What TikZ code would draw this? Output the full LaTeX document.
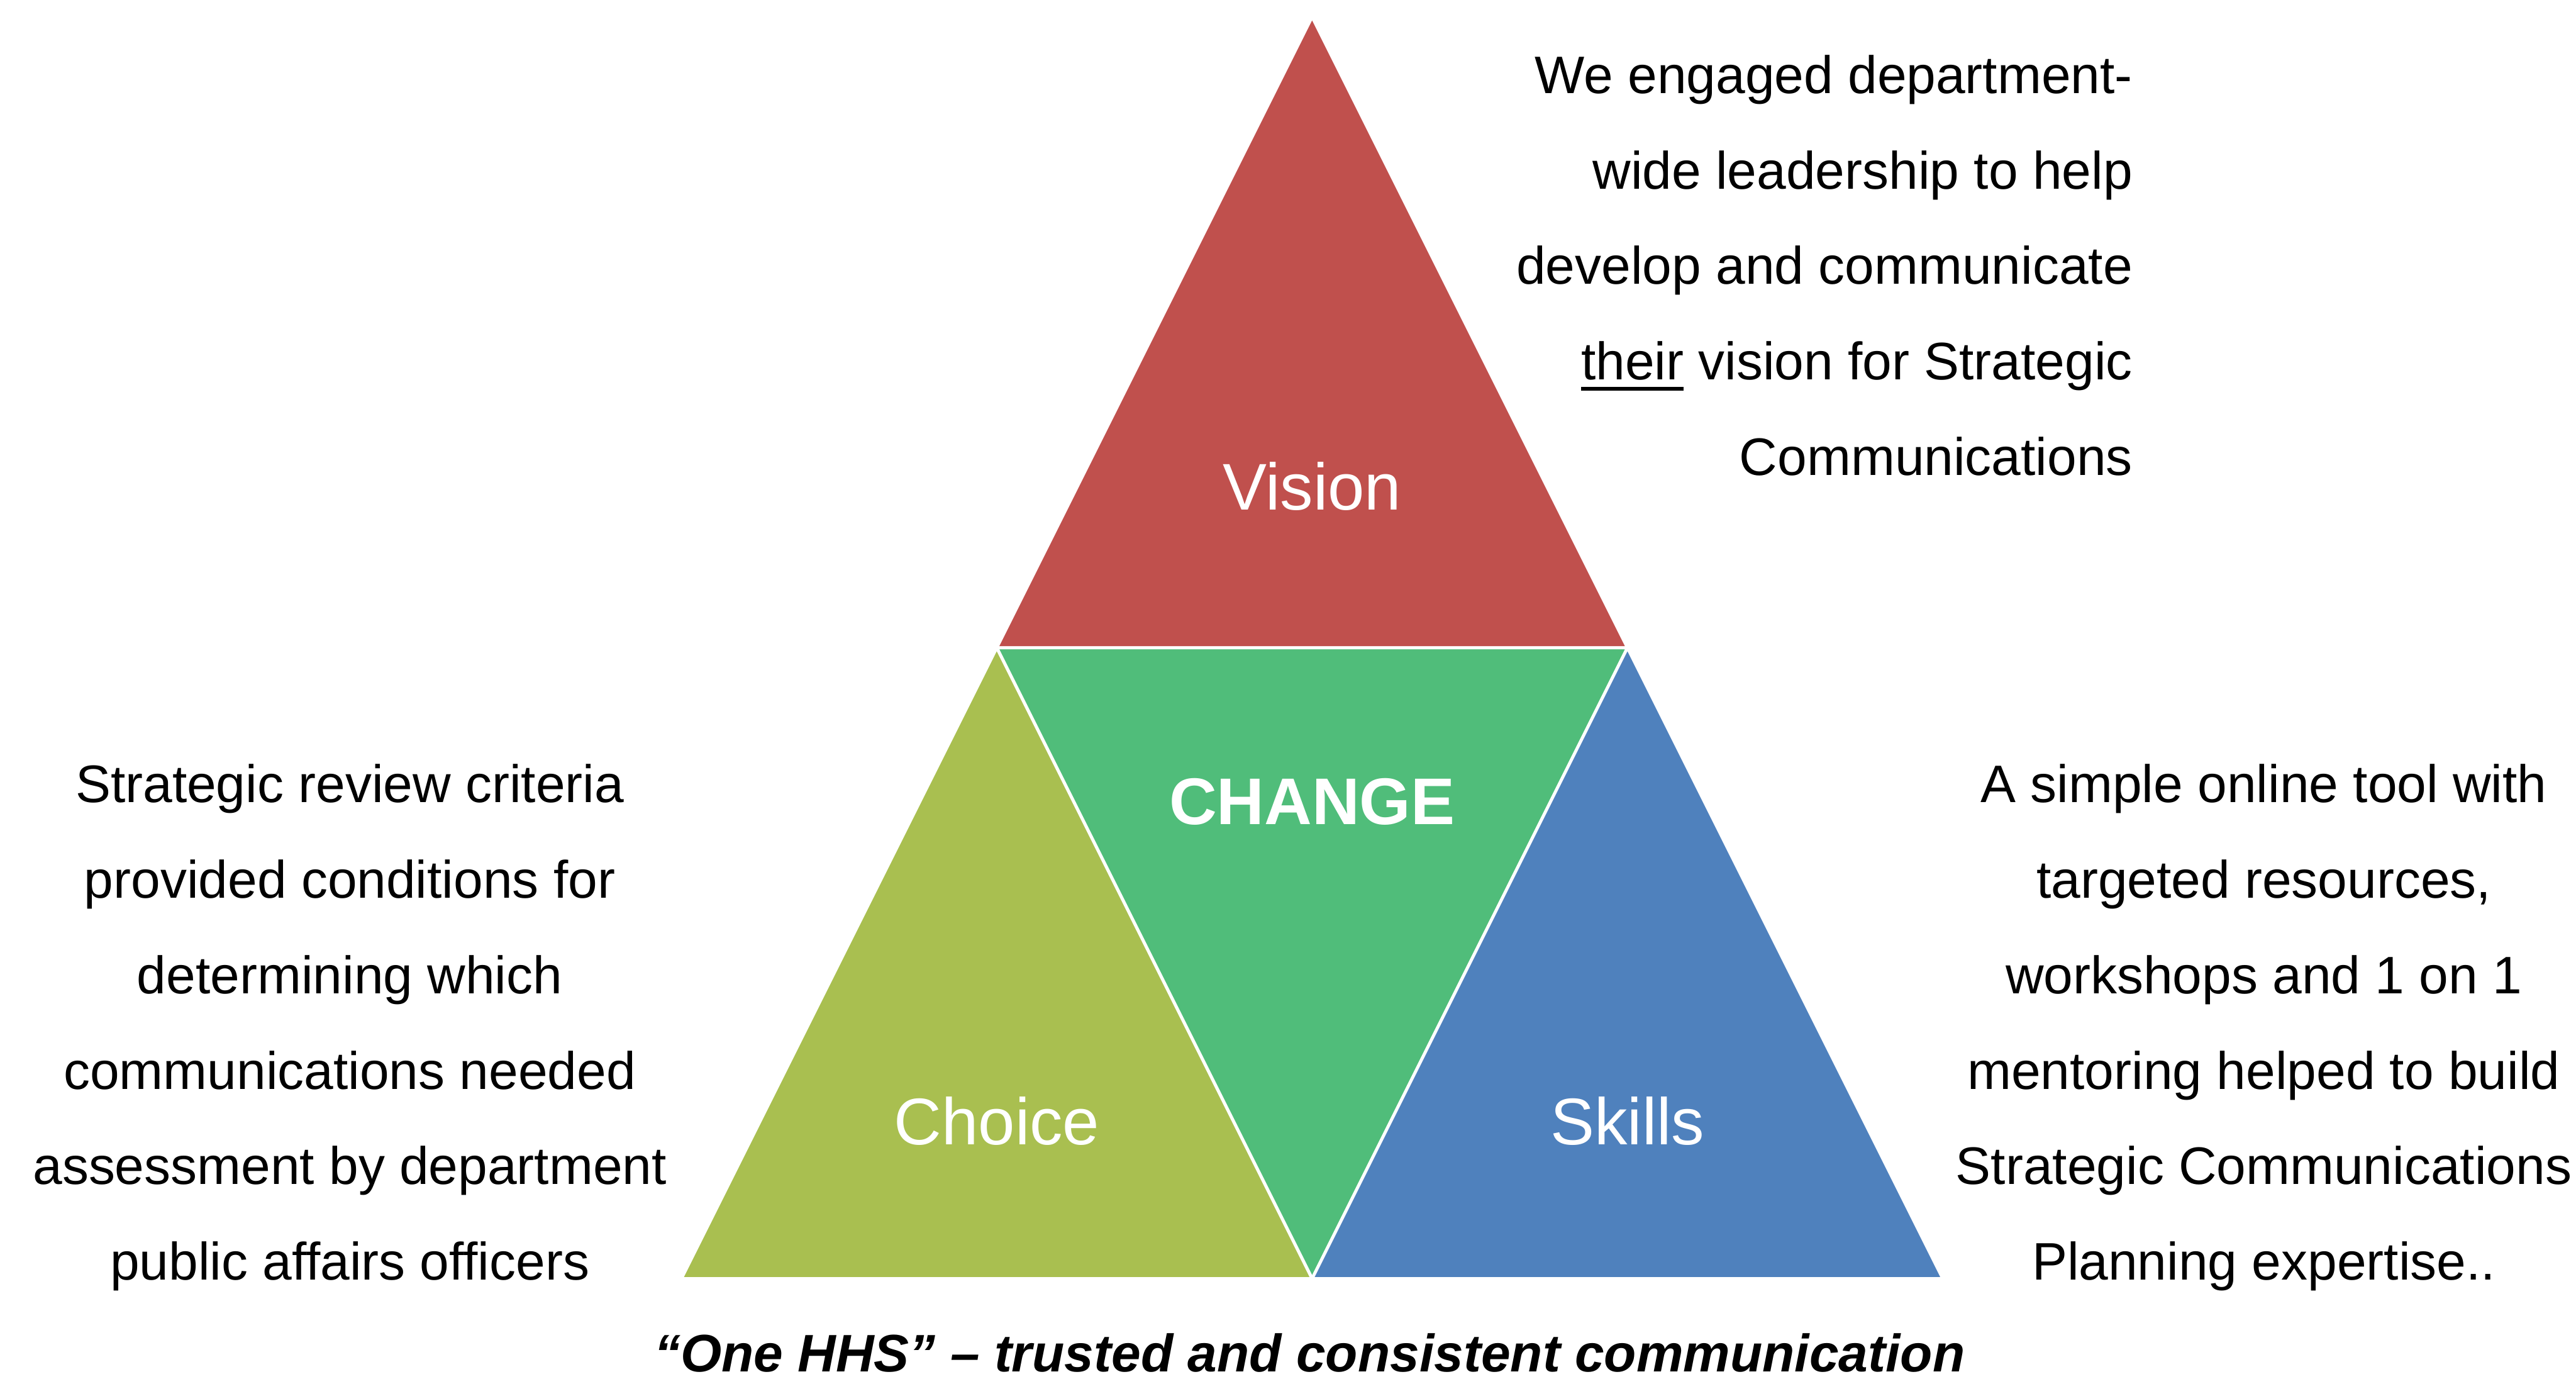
\documentclass[tikz,border=0pt]{standalone}
\usepackage{fontspec}
\setmainfont{Liberation Sans}

\definecolor{visionred}{HTML}{C0504D}
\definecolor{changegreen}{HTML}{50BD7A}
\definecolor{choiceolive}{HTML}{A9BF50}
\definecolor{skillsblue}{HTML}{4F81BD}

% underline with a heavier rule
\newcommand{\heavyul}[1]{\setbox0\hbox{#1}\rlap{\rule[-5pt]{\wd0}{1.8pt}}\box0\relax}

\tikzset{
            piece/.style={draw=white, line width=1.4pt},
            word/.style={text=white, font=\fontsize{30}{36}\selectfont},
            note/.style={inner sep=0pt, font=\fontsize{24}{43.4}\selectfont}
        }

\begin{document}
\begin{tikzpicture}
                \useasboundingbox (0,0) rectangle (41.17,22.11);

                % corners of the big triangle
                \coordinate (apex) at (20.97,21.84);
                \coordinate (midl) at (15.93,11.76);
                \coordinate (midr) at (26.01,11.76);
                \coordinate (basel) at (10.89,1.68);
                \coordinate (basem) at (20.97,1.68);
                \coordinate (baser) at (31.05,1.68);

                \filldraw[piece, fill=visionred] (apex) -- (midl) -- (midr) -- cycle;
                \filldraw[piece, fill=changegreen] (midl) -- (midr) -- (basem) -- cycle;
                \filldraw[piece, fill=choiceolive] (midl) -- (basel) -- (basem) -- cycle;
                \filldraw[piece, fill=skillsblue] (midr) -- (basem) -- (baser) -- cycle;

                \node[word] (vision) at (20.97,14.34) {Vision};
                \node[word, font=\fontsize{30}{36}\selectfont\bfseries] (change) at (20.97,9.30) {CHANGE};
                \node[word] (choice) at (15.93,4.20) {Choice};
                \node[word] (skills) at (26.01,4.20) {Skills};

                % side texts
                \node[note, align=right, anchor=east] (visionnote) at (34.09,17.87)
                    {We engaged department-\\wide leadership to help\\develop and communicate\\\heavyul{their} vision for Strategic\\Communications};
                \node[note, align=center] (choicenote) at (5.59,5.69)
                    {Strategic review criteria\\provided conditions for\\determining which\\communications needed\\assessment by department\\public affairs officers};
                \node[note, align=center] (skillsnote) at (36.18,5.69)
                    {A simple online tool with\\targeted resources,\\workshops and 1 on 1\\mentoring helped to build\\Strategic Communications\\Planning expertise..};

                \node[note, font=\fontsize{24}{30}\selectfont\bfseries\itshape] (motto) at (20.93,0.49)
                    {“One HHS” – trusted and consistent communication};
            \end{tikzpicture}
\end{document}
